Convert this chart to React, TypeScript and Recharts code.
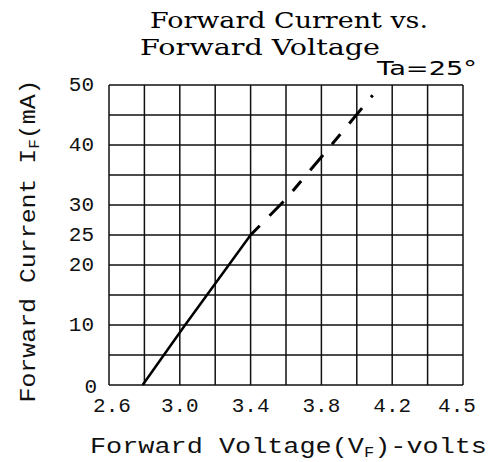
import React from "react";
import { LineChart, Line, XAxis, YAxis, CartesianGrid } from "recharts";

// Data
const solidVoltage = [2.79, 3.03, 3.4];
const solidCurrent = [0, 10, 25];
const dashedVoltage = [3.4, 3.6, 3.8, 4.09];
const dashedCurrent = [25, 31, 38, 48.3];

const xTickValues = [2.6, 2.8, 3.0, 3.2, 3.4, 3.6, 3.8, 4.0, 4.2, 4.4, 4.6];
const xTickLabels = ["2.6", "", "3.0", "", "3.4", "", "3.8", "", "4.2", "", "4.5"];
const yTickValues = [0, 5, 10, 15, 20, 25, 30, 35, 40, 45, 50];
const yTickLabels = ["0", "", "10", "", "20", "25", "30", "", "40", "", "50"];

const solidData = solidVoltage.map((v, i) => ({ v, i: solidCurrent[i] }));
const dashedData = dashedVoltage.map((v, i) => ({ v, i: dashedCurrent[i] }));

const W = 491;
const H = 462;
const monoFont = "'Liberation Mono', 'DejaVu Sans Mono', monospace";

const XTick = (props: any) => {
  const { x, payload, index } = props;
  const label = xTickLabels[xTickValues.indexOf(payload.value)] ?? "";
  if (!label) return null;
  const dx = index === 0 ? 3 : index === xTickValues.length - 1 ? -6 : 0;
  return (
    <text x={x + dx} y={412} textAnchor="middle" fontFamily={monoFont} fontSize={21} fill="#111">
      {label}
    </text>
  );
};

const YTick = (props: any) => {
  const { y, payload } = props;
  const label = yTickLabels[yTickValues.indexOf(payload.value)] ?? "";
  if (!label) return null;
  const isZero = payload.value === 0;
  return (
    <text
      x={isZero ? 97 : 94}
      y={y + (isZero ? 2 : 0)}
      textAnchor="end"
      dominantBaseline="central"
      fontFamily={monoFont}
      fontSize={21}
      fill="#111"
    >
      {label}
    </text>
  );
};

export default function App() {
  return (
    <div style={{ position: "absolute", left: 0, top: 0, width: W, height: H, background: "#fff" }}>
      <LineChart
        width={W}
        height={H}
        margin={{ top: 85, right: 28, bottom: 37, left: 49 }}
      >
        <CartesianGrid stroke="#111" strokeWidth={1.5} />
        <XAxis
          type="number"
          dataKey="v"
          domain={[2.6, 4.6]}
          ticks={xTickValues}
          tick={<XTick />}
          axisLine={false}
          tickLine={false}
          height={40}
          interval={0}
          allowDataOverflow
        />
        <YAxis
          type="number"
          dataKey="i"
          domain={[0, 50]}
          ticks={yTickValues}
          tick={<YTick />}
          axisLine={false}
          tickLine={false}
          width={60}
          interval={0}
        />
        <Line
          data={solidData}
          dataKey="i"
          stroke="#000"
          strokeWidth={2.5}
          dot={false}
          isAnimationActive={false}
          type="linear"
        />
        <Line
          data={dashedData}
          dataKey="i"
          stroke="#000"
          strokeWidth={3}
          strokeDasharray="13 14 20 14"
          dot={false}
          isAnimationActive={false}
          type="linear"
        />
      </LineChart>
      <svg
        width={W}
        height={H}
        style={{ position: "absolute", left: 0, top: 0, pointerEvents: "none" }}
      >
        <text x={150} y={28} fontFamily="'DejaVu Serif', serif" fontSize={23} textLength={278} lengthAdjust="spacingAndGlyphs" fill="#000">
          Forward Current vs.
        </text>
        <text x={140} y={55} fontFamily="'DejaVu Serif', serif" fontSize={23} textLength={240} lengthAdjust="spacingAndGlyphs" fill="#000">
          Forward Voltage
        </text>
        <text x={377} y={75} fontFamily="'DejaVu Sans', sans-serif" fontSize={19} textLength={100} lengthAdjust="spacingAndGlyphs" fill="#000">
          Ta=25°
        </text>
        <g transform="translate(35, 241) rotate(-90)">
          <text x={0} y={0} textAnchor="middle" fontFamily={monoFont} fontSize={22} textLength={323} lengthAdjust="spacingAndGlyphs" fill="#111">
            Forward Current I<tspan fontSize={14} dy={4}>F</tspan><tspan dy={-4}>(mA)</tspan>
          </text>
        </g>
        <text x={90} y={453} fontFamily={monoFont} fontSize={22} textLength={397} lengthAdjust="spacingAndGlyphs" fill="#111">
          Forward Voltage(V<tspan fontSize={14} dy={4}>F</tspan><tspan dy={-4}>)-volts</tspan>
        </text>
      </svg>
    </div>
  );
}
